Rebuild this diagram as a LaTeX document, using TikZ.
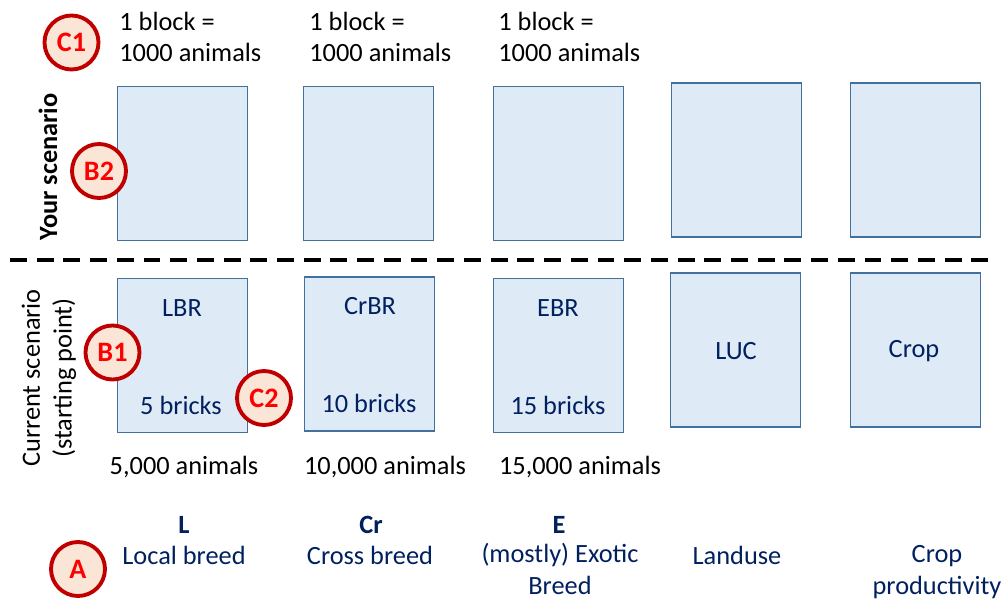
\documentclass[tikz,border=0pt]{standalone}
\usepackage{fontspec}
\setmainfont{Carlito}
\usetikzlibrary{positioning}
\definecolor{boxfill}{HTML}{DEEBF7}
\definecolor{boxline}{HTML}{41719C}
\definecolor{navy}{HTML}{002060}
\definecolor{markfill}{HTML}{FBE5D6}
\definecolor{markline}{HTML}{C00000}

\begin{document}
\begin{tikzpicture}[x=0.02cm, y=-0.02cm, font=\fontsize{15}{18}\selectfont,
	brick/.style={draw=boxline, fill=boxfill, line width=0.85pt, minimum width=2.6cm, minimum height=3.08cm, inner sep=0pt},
	marker/.style={circle, draw=markline, fill=markfill, line width=2.2pt, minimum size=1.08cm, inner sep=0pt, text=red, font=\fontsize{16}{18}\selectfont\bfseries},
	lbl/.style={text=navy, align=center, inner sep=0pt},
	note/.style={align=left, inner sep=0pt, anchor=base west},
	side/.style={rotate=90, align=center, inner sep=0pt}]
	\useasboundingbox (0,0) rectangle (1008,601);

	\node[brick] (yl) at (182.5,163.5) {};
	\node[brick] (yc) at (368.5,163.5) {};
	\node[brick] (ye) at (558.5,163.5) {};
	\node[brick] (yu) at (736.5,160) {};
	\node[brick] (yp) at (915.5,160) {};

	\node[brick] (cl) at (182.5,355.5) {};
	\node[brick] (cc) at (369.5,354) {};
	\node[brick] (ce) at (558.5,355.5) {};
	\node[brick] (cu) at (735.5,350) {};
	\node[brick] (cp) at (915.5,350) {};

	\coordinate (split w) at (10,260);
	\coordinate (split e) at (990,260);
	\draw[line width=2.3pt, dash pattern=on 9.6pt off 5.6pt] (split w) -- (split e);

	\node[note] (n1) at (119,62) {1 block =\\1000 animals};
	\node[note] (n2) at (309,62) {1 block =\\1000 animals};
	\node[note] (n3) at (498,62) {1 block =\\1000 animals};

	\node[side, font=\fontsize{15}{18}\selectfont\bfseries] (yours) at (48,167) {Your scenario};
	\node[side] (current) at (49,378) {Current scenario\\(starting point)};

	\node[lbl] (lbr) at (182,308) {LBR};
	\node[lbl] (crbr) at (370,306) {CrBR};
	\node[lbl] (ebr) at (558,308) {EBR};
	\node[lbl] (luc) at (736,351) {LUC};
	\node[lbl] (crop) at (914,351) {Crop};
	\node[lbl] (b5) at (181,405) {5 bricks};
	\node[lbl] (b10) at (369,403) {10 bricks};
	\node[lbl] (b15) at (558,405) {15 bricks};

	\node[inner sep=0pt] (a5) at (184,467) {5,000 animals};
	\node[inner sep=0pt] (a10) at (385,467) {10,000 animals};
	\node[inner sep=0pt] (a15) at (580,467) {15,000 animals};

	\node[lbl, font=\fontsize{15}{18}\selectfont\bfseries] (kl) at (184,525) {L};
	\node[lbl, font=\fontsize{15}{18}\selectfont\bfseries] (kcr) at (371,525) {Cr};
	\node[lbl, font=\fontsize{15}{18}\selectfont\bfseries] (ke) at (559,525) {E};
	\node[lbl, anchor=base] (local) at (184,564) {Local breed};
	\node[lbl, anchor=base] (cross) at (370,564) {Cross breed};
	\node[lbl, anchor=base] (exotic) at (560,594) {(mostly) Exotic\\Breed};
	\node[lbl, anchor=base] (land) at (737,564) {Landuse};
	\node[lbl, anchor=base] (prod) at (937,594) {Crop\\productivity};

	\node[marker] (c1) at (71.5,42.5) {C1};
	\node[marker] (b2) at (99,171) {B2};
	\node[marker] (b1) at (112.5,352.5) {B1};
	\node[marker] (c2) at (264,398) {C2};
	\node[marker] (a) at (78,569) {A};
\end{tikzpicture}
\end{document}
